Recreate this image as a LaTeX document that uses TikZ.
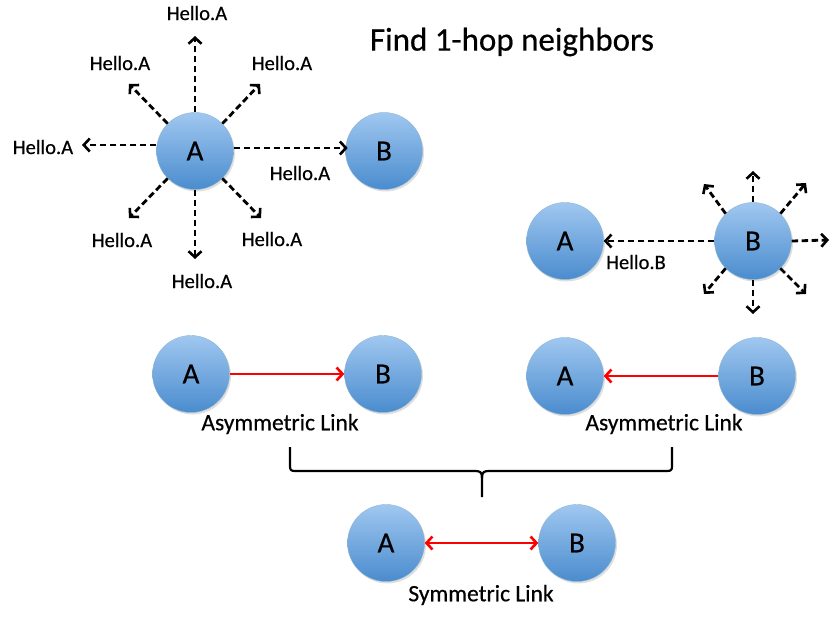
\documentclass[tikz,border=0pt]{standalone}
\usepackage{fontspec}
\setmainfont{Carlito}[FakeBold=0.5]
\usetikzlibrary{arrows.meta,shadows}
\begin{document}
\begin{tikzpicture}[x=1pt,y=-1pt,
  peer/.style={circle,minimum size=77pt,inner sep=0pt,draw=blue!40!cyan!60!black!45,line width=0.4pt,
    top color={rgb,255:red,160;green,199;blue,240},bottom color={rgb,255:red,74;green,140;blue,206},
    drop shadow={opacity=0.25,shadow xshift=1.5pt,shadow yshift=-2pt},font=\fontsize{29}{31}\selectfont},
  hello/.style={font=\fontsize{20.5}{22}\selectfont,inner sep=0pt},
  tipr/.tip={Straight Barb[length=6pt,width=13pt,line width=2.6pt]},
  bcast/.style={dashed,dash pattern=on 6.5pt off 3.5pt,line width=2.8pt,-{tipr}},
  link/.style={red,line width=2.8pt},
  caption/.style={font=\fontsize{23.5}{25}\selectfont,inner sep=0pt}
]
\useasboundingbox (0,0) rectangle (832,623);

% title
\node[font=\fontsize{33}{35}\selectfont,inner sep=0pt] (title) at (512,42) {Find 1-hop neighbors};

% top-left: A broadcasts
\node[peer] (A1) at (195,151) {A};
\node[peer] (B1) at (384,151) {B};
\coordinate (a1u) at (195,36);
\coordinate (a1ul) at (129,84);
\coordinate (a1ur) at (260,84);
\coordinate (a1l) at (82,145);
\coordinate (a1dl) at (129,218);
\coordinate (a1dr) at (261,218);
\coordinate (a1d) at (195,259);
\draw[bcast] (A1.north) -- (a1u);
\draw[bcast] (A1.135) -- (a1ul);
\draw[bcast] (A1.45) -- (a1ur);
\draw[bcast] (A1.west |- a1l) -- (a1l);
\draw[bcast] (A1.east) ++(0,-3) -- ++(114,0) coordinate (a1r);
\draw[bcast] (A1.225) -- (a1dl);
\draw[bcast] (A1.-45) -- (a1dr);
\draw[bcast] (A1.south) -- (a1d);
\node[hello] (h1) at (197,13) {Hello.A};
\node[hello] (h2) at (120,63) {Hello.A};
\node[hello] (h3) at (282,63) {Hello.A};
\node[hello] (h4) at (43,147) {Hello.A};
\node[hello] (h5) at (300,173) {Hello.A};
\node[hello] (h6) at (122,240) {Hello.A};
\node[hello] (h7) at (272,239) {Hello.A};
\node[hello] (h8) at (202,281) {Hello.A};

% right-middle: B broadcasts
\node[peer] (A2) at (565,241) {A};
\node[peer] (B2) at (753,241) {B};
\draw[bcast] (B2.west) -- (A2.east);
\node[hello] (hb) at (636,262) {Hello.B};
\coordinate (b2u) at (753,171);
\coordinate (b2ul) at (704,184);
\coordinate (b2ur) at (806,183);
\coordinate (b2r) at (829,240);
\coordinate (b2dl) at (704,294);
\coordinate (b2dr) at (806,294);
\coordinate (b2d) at (753,314);
\draw[bcast] (B2.north) -- (b2u);
\draw[bcast] (B2.135) -- (b2ul);
\draw[bcast] (B2.45) -- (b2ur);
\draw[bcast] (B2.east) -- (b2r);
\draw[bcast] (B2.225) -- (b2dl);
\draw[bcast] (B2.-45) -- (b2dr);
\draw[bcast] (B2.south) -- (b2d);

% asymmetric links
\node[peer] (A3) at (191,374) {A};
\node[peer] (B3) at (383,374) {B};
\draw[link,-{tipr}] (A3) -- (B3);
\node[caption] (c1) at (280,424) {Asymmetric Link};

\node[peer] (A4) at (565,376) {A};
\node[peer] (B4) at (757,376) {B};
\draw[link,-{tipr}] (B4) -- (A4);
\node[caption] (c2) at (664,424) {Asymmetric Link};

% brace
\coordinate (brL) at (290,447);
\coordinate (brR) at (672,447);
\coordinate (brM) at (482,497);
\draw[line width=2.2pt,line join=round]
  (brL) -- (290,466) .. controls (290,470) and (291,471) .. (295,471)
  -- (475,471) .. controls (480,471) and (482,472) .. (482,478) -- (brM);
\draw[line width=2.2pt,line join=round]
  (brR) -- (672,466) .. controls (672,470) and (671,471) .. (667,471)
  -- (489,471) .. controls (484,471) and (482,472) .. (482,478);

% symmetric link
\node[peer] (A5) at (386,543) {A};
\node[peer] (B5) at (577,543) {B};
\draw[link,{tipr}-{tipr}] (A5) -- (B5);
\node[caption] (c3) at (481,595) {Symmetric Link};
\end{tikzpicture}
\end{document}
